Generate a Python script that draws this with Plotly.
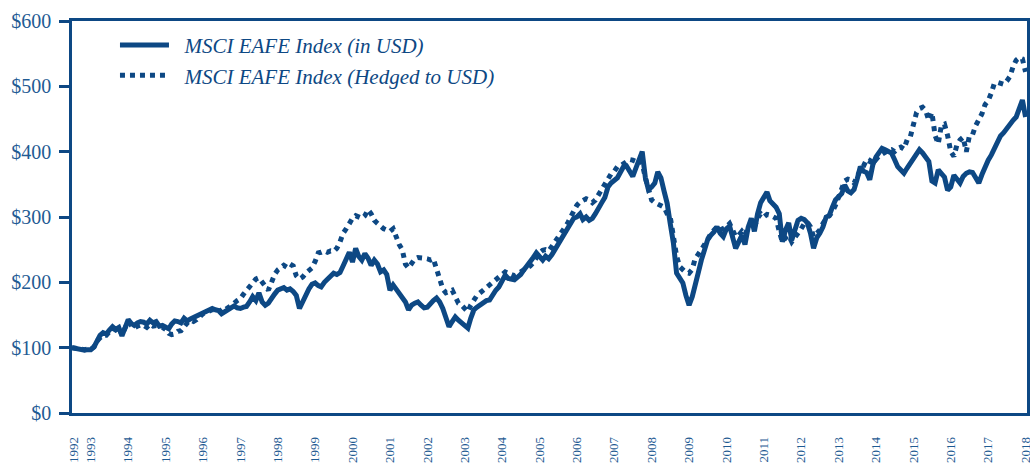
import pandas as pd
import plotly.graph_objects as go

# ---- data (monthly, Jul 1992 .. Jan 2018) ----
start_month = "1992-07-01"
n_months = 307

usd_index = (
    [100, 99, 98, 97, 96, 97] +                                   # 1992 (Jul-Dec)
    [97, 101, 112, 119, 123, 121, 127, 132, 128, 131, 118, 130] +  # 1993
    [143, 137, 134, 138, 140, 139, 136, 142, 138, 140, 133, 134] + # 1994
    [131, 129, 136, 141, 140, 138, 145, 141, 144, 146, 148, 152] + # 1995
    [154, 156, 157, 160, 158, 157, 152, 155, 158, 160, 164, 161] + # 1996
    [160, 162, 163, 170, 178, 172, 184, 170, 165, 168, 176, 182] + # 1997
    [188, 190, 192, 188, 190, 186, 180, 160, 170, 183, 190, 197] + # 1998
    [199, 195, 193, 200, 205, 208, 214, 212, 215, 225, 235, 246] + # 1999
    [231, 252, 240, 234, 244, 237, 226, 234, 228, 216, 219, 212] + # 2000
    [188, 196, 190, 184, 178, 170, 158, 165, 168, 170, 165, 161] + # 2001
    [162, 168, 172, 176, 170, 160, 147, 132, 140, 147, 142, 138] + # 2002
    [132, 130, 145, 158, 162, 166, 168, 172, 173, 182, 188, 193] + # 2003
    [203, 211, 206, 204, 204, 208, 212, 219, 225, 230, 238, 245] + # 2004
    [240, 234, 240, 236, 242, 250, 258, 268, 275, 285, 290, 298] + # 2005
    [300, 305, 296, 300, 295, 298, 305, 315, 322, 330, 346, 352] + # 2006
    [356, 360, 368, 377, 378, 370, 362, 375, 390, 400, 360, 342] + # 2007
    [346, 352, 369, 360, 340, 321, 290, 260, 214, 205, 199, 180] + # 2008
    [165, 178, 193, 215, 234, 250, 265, 272, 277, 285, 275, 270] + # 2009
    [282, 286, 270, 252, 262, 272, 258, 284, 298, 278, 305, 322] + # 2010
    [330, 338, 325, 321, 315, 305, 262, 280, 291, 265, 282, 295] + # 2011
    [298, 296, 291, 275, 252, 268, 275, 285, 300, 302, 315, 326] + # 2012
    [331, 336, 349, 340, 337, 342, 358, 377, 370, 368, 357, 380] + # 2013
    [392, 398, 405, 403, 400, 398, 388, 377, 372, 367, 375, 382] + # 2014
    [392, 398, 403, 398, 392, 385, 355, 352, 372, 365, 361, 341] + # 2015
    [346, 364, 358, 352, 362, 367, 369, 368, 360, 352, 365, 378] + # 2016
    [387, 395, 405, 418, 424, 429, 436, 444, 448, 453, 466, 479] + # 2017
    [453]                                                          # 2018 (Jan)
)

hedged_index = (
    [100, 99, 98, 98, 97, 98] +                                    # 1992 (Jul-Dec)
    [98, 101, 110, 115, 119, 119, 125, 130, 127, 130, 120, 130] +  # 1993
    [140, 134, 130, 133, 135, 134, 131, 136, 133, 134, 130, 131] + # 1994
    [128, 122, 120, 121, 125, 126, 133, 138, 142, 140, 143, 148] + # 1995
    [152, 154, 156, 158, 158, 159, 154, 157, 160, 163, 168, 172] + # 1996
    [175, 182, 188, 192, 198, 205, 207, 200, 192, 188, 200, 212] + # 1997
    [219, 222, 226, 223, 228, 225, 210, 205, 208, 214, 219, 222] + # 1998
    [232, 245, 246, 248, 246, 248, 247, 252, 262, 275, 282, 292] + # 1999
    [298, 302, 300, 298, 302, 311, 305, 295, 290, 285, 282, 280] + # 2000
    [278, 282, 270, 258, 250, 228, 222, 230, 236, 238, 238, 237] + # 2001
    [236, 234, 236, 219, 204, 190, 184, 186, 188, 178, 168, 165] + # 2002
    [160, 155, 165, 174, 180, 184, 188, 192, 195, 200, 204, 208] + # 2003
    [212, 216, 214, 212, 210, 213, 216, 218, 222, 225, 230, 238] + # 2004
    [245, 249, 250, 248, 255, 262, 270, 275, 285, 290, 300, 310] + # 2005
    [318, 323, 325, 328, 326, 322, 326, 334, 342, 352, 358, 366] + # 2006
    [370, 377, 378, 382, 386, 388, 387, 385, 388, 382, 360, 345] + # 2007
    [326, 322, 320, 318, 315, 305, 300, 270, 240, 224, 218, 215] + # 2008
    [214, 220, 236, 245, 250, 258, 268, 274, 280, 285, 280, 282] + # 2009
    [285, 290, 282, 270, 272, 278, 272, 285, 292, 285, 298, 305] + # 2010
    [300, 304, 303, 300, 298, 278, 262, 268, 272, 262, 268, 275] + # 2011
    [282, 290, 292, 285, 270, 275, 280, 290, 298, 302, 308, 318] + # 2012
    [330, 340, 355, 358, 357, 352, 362, 372, 378, 388, 385, 392] + # 2013
    [388, 394, 396, 400, 402, 403, 400, 405, 407, 404, 418, 422] + # 2014
    [440, 460, 466, 468, 463, 448, 460, 425, 412, 440, 442, 425] + # 2015
    [400, 393, 410, 418, 422, 400, 424, 426, 440, 448, 458, 472] + # 2016
    [478, 490, 504, 506, 505, 503, 508, 515, 530, 540, 544, 542] + # 2017
    [522]                                                          # 2018 (Jan)
)

year_labels = [str(y) for y in range(1992, 2019)]
year_positions = ["1992-07-15"] + [f"{y}-01-01" for y in range(1993, 2019)]
y_ticks = [0, 100, 200, 300, 400, 500, 600]
y_tick_labels = ["$0", "$100", "$200", "$300", "$400", "$500", "$600"]

series_names = ["MSCI EAFE Index (in USD)", "MSCI EAFE Index (Hedged to USD)"]

dates = pd.date_range(start_month, periods=n_months, freq="MS")

NAVY = "#0d4884"
TEXT = "#1f5b93"
FONT = "Liberation Serif, Times New Roman, serif"
GAP = "\u2002"  # small visual gap between legend swatch and its text

fig = go.Figure()
fig.add_trace(go.Scatter(
    x=dates, y=usd_index, mode="lines", name=GAP + series_names[0],
    line=dict(color=NAVY, width=5, dash="solid"),
))
fig.add_trace(go.Scatter(
    x=dates, y=hedged_index, mode="lines", name=GAP + series_names[1],
    line=dict(color=NAVY, width=5, dash="dot"),
))

fig.update_layout(
    width=1030, height=464,
    margin=dict(l=72, r=3, t=21, b=51, autoexpand=False),
    paper_bgcolor="white", plot_bgcolor="white",
    showlegend=True,
    legend=dict(
        x=0.045, y=0.99, xanchor="left", yanchor="top",
        bgcolor="rgba(0,0,0,0)", borderwidth=0,
        font=dict(family=FONT, size=21, color=NAVY, style="italic"),
        itemwidth=49, tracegroupgap=0,
    ),
    xaxis=dict(
        type="date", range=["1992-07-01", "2018-01-15"], automargin=False,
        tickmode="array", tickvals=year_positions, ticktext=year_labels,
        tickangle=-90, ticks="", ticklabelstandoff=16, ticklabeloverflow="allow",
        tickfont=dict(family=FONT, size=13, color=TEXT),
        showgrid=False, zeroline=False,
        showline=True, linecolor=NAVY, linewidth=2.5, mirror=True,
    ),
    yaxis=dict(
        range=[0, 600], automargin=False,
        tickmode="array", tickvals=y_ticks, ticktext=y_tick_labels,
        ticks="outside", ticklen=10, tickwidth=2.5, tickcolor=NAVY,
        ticklabelstandoff=4,
        tickfont=dict(family=FONT, size=20, color=TEXT),
        showgrid=False, zeroline=False,
        showline=True, linecolor=NAVY, linewidth=2.5, mirror=True,
    ),
    yaxis2=dict(
        range=[0, 600], overlaying="y", side="left", anchor="x", automargin=False,
        tickmode="array", tickvals=y_ticks, showticklabels=False,
        ticks="inside", ticklen=14, tickwidth=2.5, tickcolor=NAVY,
        showgrid=False, zeroline=False, showline=False,
    ),
)

fig.write_html(
    "out.html",
    config={"displayModeBar": False},
    post_script="document.body.style.margin='0';document.body.style.overflow='hidden';",
)
